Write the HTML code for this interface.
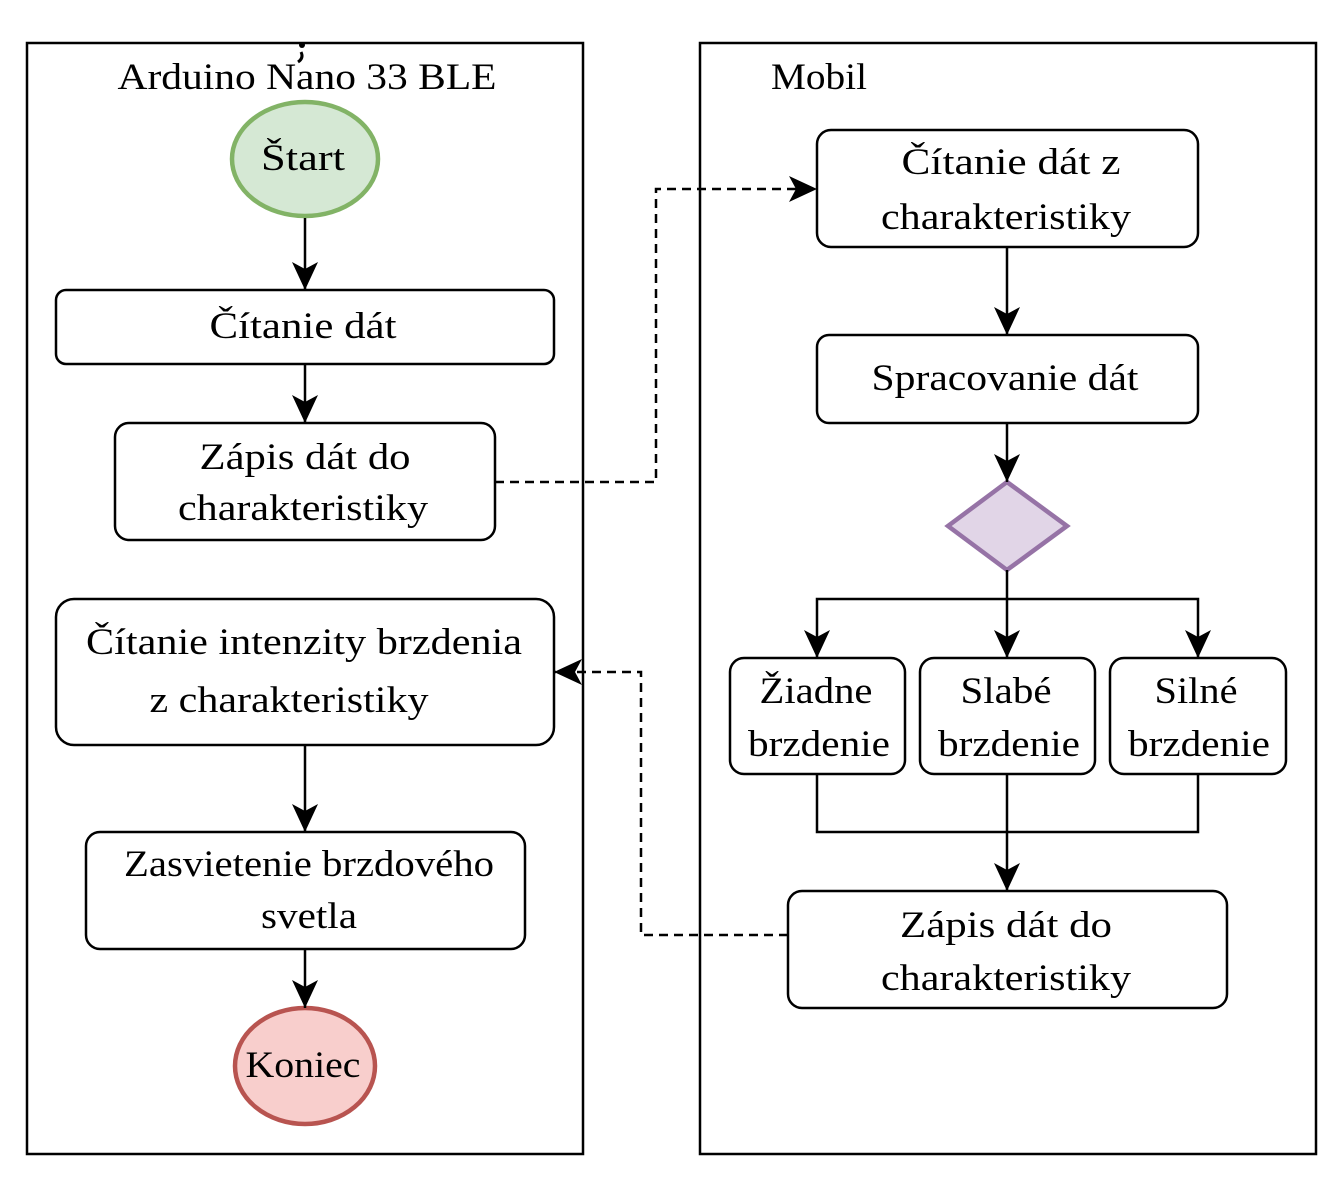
<!DOCTYPE html>
<html><head><meta charset="utf-8"><style>
html,body{margin:0;padding:0;background:#fff;}
svg{display:block;}
text{font-family:"Liberation Serif",serif;font-size:37px;fill:#000;text-anchor:middle;}
</style></head><body>
<svg width="1339" height="1179" viewBox="0 0 1339 1179" xmlns="http://www.w3.org/2000/svg">
<defs>
<marker id="a" markerUnits="userSpaceOnUse" markerWidth="30" markerHeight="30" viewBox="0 0 30 30" refX="28" refY="15" orient="auto">
<path d="M0,2 L28,15 L0,28 L7,15 Z" fill="#000"/>
</marker>
</defs>
<g fill="none" stroke="#000" stroke-width="2.5">
<rect x="27" y="43" width="556" height="1111"/>
<rect x="700" y="43" width="616" height="1111"/>
</g>
<circle cx="302" cy="45" r="3" fill="#000"/>
<path d="M301,52 q3,6 -3,10" stroke="#000" stroke-width="3" fill="none"/>
<g lengthAdjust="spacingAndGlyphs">
</g>
<text x="307" y="89" textLength="379" lengthAdjust="spacingAndGlyphs">Arduino Nano 33 BLE</text>
<text x="819" y="89" textLength="96" lengthAdjust="spacingAndGlyphs">Mobil</text>

<g stroke="#000" stroke-width="2.5" fill="none">
<rect x="56" y="290" width="498" height="74" rx="10"/>
<rect x="115" y="423" width="380" height="117" rx="14"/>
<rect x="56" y="599" width="498" height="146" rx="18"/>
<rect x="86" y="832" width="439" height="117" rx="14"/>
<rect x="817" y="130" width="381" height="117" rx="14"/>
<rect x="817" y="335" width="381" height="88" rx="12"/>
<rect x="730" y="658" width="175" height="116" rx="14"/>
<rect x="920" y="658" width="175" height="116" rx="14"/>
<rect x="1110" y="658" width="176" height="116" rx="14"/>
<rect x="788" y="891" width="439" height="117" rx="14"/>
</g>
<ellipse cx="305" cy="159" rx="73" ry="57" fill="#d5e8d4" stroke="#82b366" stroke-width="4.5"/>
<ellipse cx="305" cy="1066" rx="70" ry="58" fill="#f8cecc" stroke="#b85450" stroke-width="4.5"/>
<polygon points="1007,482 1067,526 1007,570 948,526" fill="#e1d5e7" stroke="#9673a6" stroke-width="4.5"/>

<g stroke="#000" stroke-width="2.5" fill="none" marker-end="url(#a)">
<line x1="305" y1="218" x2="305" y2="290"/>
<line x1="305" y1="364" x2="305" y2="423"/>
<line x1="305" y1="745" x2="305" y2="832"/>
<line x1="305" y1="949" x2="305" y2="1008"/>
<line x1="1007" y1="247" x2="1007" y2="335"/>
<line x1="1007" y1="423" x2="1007" y2="482"/>
<line x1="1007" y1="570" x2="1007" y2="658"/>
<polyline points="1007,599 817,599 817,658"/>
<polyline points="1007,599 1198,599 1198,658"/>
<line x1="1007" y1="774" x2="1007" y2="891"/>
<polyline points="495,482 656,482 656,189 817,189" stroke-dasharray="9,6"/>
<polyline points="788,935 641,935 641,672 554,672" stroke-dasharray="9,6"/>
</g>
<polyline points="817,774 817,832 1198,832 1198,774" stroke="#000" stroke-width="2.5" fill="none"/>

<text x="303" y="170" textLength="84" lengthAdjust="spacingAndGlyphs">Štart</text>
<text x="303" y="338" textLength="187" lengthAdjust="spacingAndGlyphs">Čítanie dát</text>
<text x="305" y="469" textLength="211" lengthAdjust="spacingAndGlyphs">Zápis dát do</text>
<text x="303" y="520" textLength="250" lengthAdjust="spacingAndGlyphs">charakteristiky</text>
<text x="304" y="654" textLength="436" lengthAdjust="spacingAndGlyphs">Čítanie intenzity brzdenia</text>
<text x="289" y="712" textLength="279" lengthAdjust="spacingAndGlyphs">z charakteristiky</text>
<text x="309" y="876" textLength="370" lengthAdjust="spacingAndGlyphs">Zasvietenie brzdového</text>
<text x="309" y="928" textLength="96" lengthAdjust="spacingAndGlyphs">svetla</text>
<text x="303" y="1077" textLength="115" lengthAdjust="spacingAndGlyphs">Koniec</text>
<text x="1011" y="174" textLength="219" lengthAdjust="spacingAndGlyphs">Čítanie dát z</text>
<text x="1006" y="229" textLength="250" lengthAdjust="spacingAndGlyphs">charakteristiky</text>
<text x="1005" y="390" textLength="267" lengthAdjust="spacingAndGlyphs">Spracovanie dát</text>
<text x="816" y="703" textLength="113" lengthAdjust="spacingAndGlyphs">Žiadne</text>
<text x="819" y="756" textLength="142" lengthAdjust="spacingAndGlyphs">brzdenie</text>
<text x="1006" y="703" textLength="91" lengthAdjust="spacingAndGlyphs">Slabé</text>
<text x="1009" y="756" textLength="142" lengthAdjust="spacingAndGlyphs">brzdenie</text>
<text x="1196" y="703" textLength="83" lengthAdjust="spacingAndGlyphs">Silné</text>
<text x="1199" y="756" textLength="142" lengthAdjust="spacingAndGlyphs">brzdenie</text>
<text x="1006" y="937" textLength="212" lengthAdjust="spacingAndGlyphs">Zápis dát do</text>
<text x="1006" y="990" textLength="250" lengthAdjust="spacingAndGlyphs">charakteristiky</text>
</svg>
</body></html>
